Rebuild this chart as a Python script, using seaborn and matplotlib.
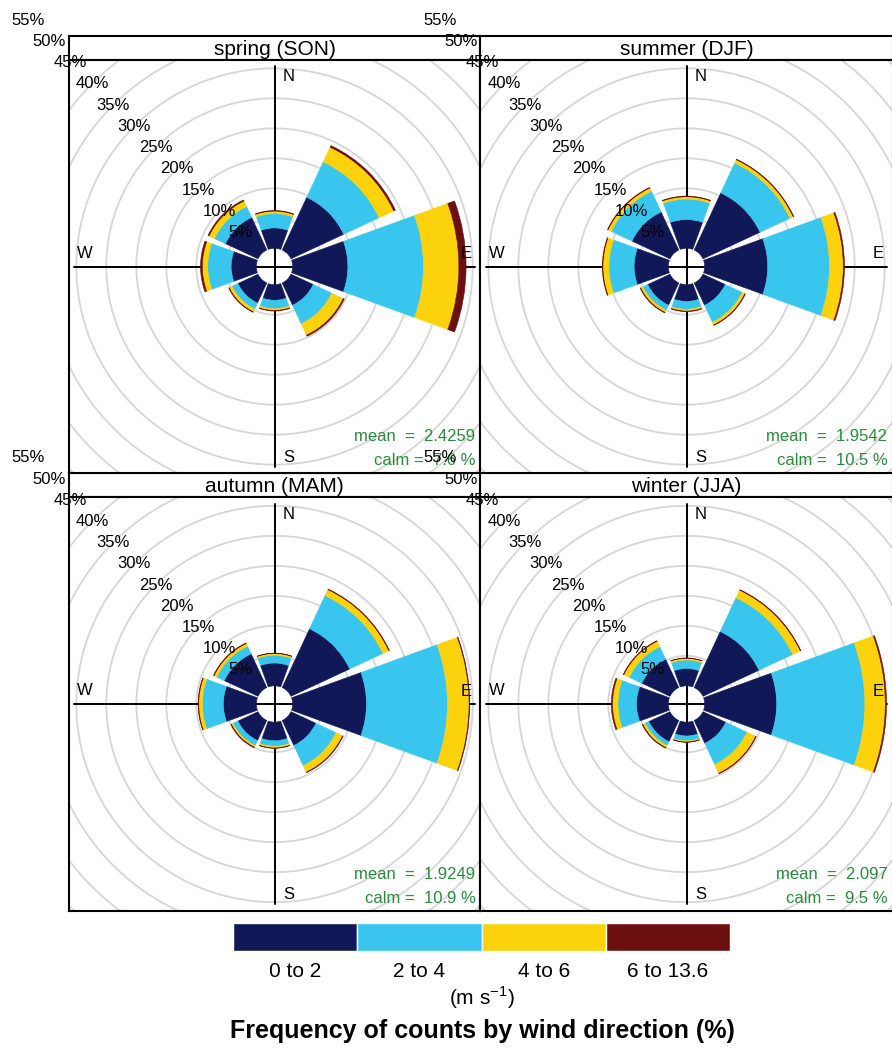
import numpy as np
import pandas as pd
import matplotlib
matplotlib.use("Agg")
import matplotlib.pyplot as plt
from matplotlib.patches import Wedge, Circle
import seaborn as sns

# -------- data --------
directions = ["N", "NE", "E", "SE", "S", "SW", "W", "NW"]
bearings = [0, 45, 90, 135, 180, 225, 270, 315]
speed_bins = ["0 to 2", "2 to 4", "4 to 6", "6 to 13.6"]
seasons = ["spring (SON)", "summer (DJF)", "autumn (MAM)", "winter (JJA)"]

# frequency (%) - rows are speed bins, columns are directions
spring = [
    [3.4, 9.7, 9.2, 4.1, 2.6, 3.7, 4.2, 6.0],
    [2.4, 6.5, 12.6, 3.4, 1.4, 1.1, 3.9, 2.0],
    [0.4, 2.7, 5.9, 2.1, 0.3, 0.5, 0.9, 1.0],
    [0.1, 0.3, 1.2, 0.2, 0.1, 0.1, 0.3, 0.2],
]
summer = [
    [4.8, 10.5, 10.5, 4.1, 2.8, 4.1, 5.7, 7.0],
    [3.4, 5.5, 10.3, 3.1, 1.3, 0.9, 4.2, 3.8],
    [0.4, 0.6, 2.3, 0.5, 0.3, 0.4, 1.0, 0.6],
    [0.1, 0.1, 0.2, 0.1, 0.1, 0.1, 0.1, 0.1],
]
autumn = [
    [3.8, 10.8, 12.3, 4.6, 3.1, 3.7, 5.5, 6.2],
    [1.3, 6.1, 13.5, 3.7, 0.9, 0.9, 3.5, 1.4],
    [0.3, 1.1, 3.6, 1.2, 0.3, 0.3, 0.6, 0.5],
    [0.05, 0.1, 0.1, 0.1, 0.05, 0.1, 0.1, 0.1],
]
winter = [
    [2.9, 10.3, 12.0, 4.2, 2.3, 3.9, 5.3, 5.2],
    [1.4, 6.2, 14.7, 3.9, 0.8, 0.7, 3.1, 2.3],
    [0.3, 1.4, 3.4, 1.6, 0.2, 0.4, 0.9, 1.0],
    [0.05, 0.1, 0.2, 0.1, 0.05, 0.1, 0.2, 0.1],
]
mean_ws = ["2.4259", "1.9542", "1.9249", "2.097"]
calm_pct = ["7.6", "10.5", "10.9", "9.5"]
pct_ticks = [5, 10, 15, 20, 25, 30, 35, 40, 45, 50, 55]

colors = sns.color_palette(["#111858", "#38c6ef", "#fbd20c", "#6c0f0f"])

# -------- long table with stacked radii --------
rows = []
for season, table in zip(seasons, [spring, summer, autumn, winter]):
    for b, vals in zip(speed_bins, table):
        for d, brg, v in zip(directions, bearings, vals):
            rows.append({"season": season, "bin": b, "direction": d, "bearing": brg, "freq": v})
df = pd.DataFrame(rows)
df["top"] = df.groupby(["season", "direction"])["freq"].cumsum()
offset = 0.1 * df["top"].max()

# -------- figure --------
sns.set_style("white")
plt.rcParams["font.family"] = ["Liberation Sans", "DejaVu Sans"]
plt.rcParams["mathtext.fontset"] = "custom"
plt.rcParams["mathtext.rm"] = "Liberation Sans"
plt.rcParams["text.color"] = "black"
plt.rcParams["xtick.color"] = "black"
plt.rcParams["xtick.labelcolor"] = "black"

W, H = 892, 1048
fig = plt.figure(figsize=(W / 100, H / 100), dpi=100)


def px_rect(x0, y0, x1, y1):
    return [x0 / W, 1 - y1 / H, (x1 - x0) / W, (y1 - y0) / H]


panels = [(69, 60, 480, 473), (480, 60, 893, 473), (69, 497, 480, 911), (480, 497, 893, 911)]
px_per_pct = 6.0

# strips first so panel labels may overlap them
for season, (x0, y0, x1, y1) in zip(seasons, panels):
    sax = fig.add_axes(px_rect(x0, y0 - 24, x1, y0))
    sax.set_xticks([])
    sax.set_yticks([])
    for s in sax.spines.values():
        s.set_color("black")
        s.set_linewidth(1.5)
    sax.text(0.5, 0.45, season, ha="center", va="center", fontsize=15, transform=sax.transAxes)

for i, (season, (x0, y0, x1, y1)) in enumerate(zip(seasons, panels)):
    ax = fig.add_axes(px_rect(x0, y0, x1, y1))
    hx = (x1 - x0) / 2 / px_per_pct
    hy = (y1 - y0) / 2 / px_per_pct
    ax.set_xlim(-hx, hx)
    ax.set_ylim(-hy, hy)
    ax.set_xticks([])
    ax.set_yticks([])
    for s in ax.spines.values():
        s.set_color("black")
        s.set_linewidth(1.5)

    for p in pct_ticks:
        ax.add_patch(Circle((0, 0), offset + p, fill=False, ec="#d6d6d6", lw=1.3, zorder=1))
    ax.plot([-33.4, 33.4], [0, 0], color="black", lw=1.4, zorder=2)
    ax.plot([0, 0], [-33.4, 33.4], color="black", lw=1.4, zorder=2)

    sub = df[df["season"] == season]
    for _, r in sub.iterrows():
        c = colors[speed_bins.index(r["bin"])]
        a = 90 - r["bearing"]
        ax.add_patch(Wedge((0, 0), offset + r["top"], a - 20, a + 20, width=r["freq"],
                           fc=c, ec=c, lw=0.4, zorder=3))

    ang = np.deg2rad(315)
    for p in pct_ticks:
        rr = offset + p
        ax.text(rr * np.sin(ang), rr * np.cos(ang), f"{p}%", ha="center", va="center",
                fontsize=12, clip_on=False, zorder=5)

    ax.text(2.4, 31.6, "N", ha="center", va="center", fontsize=12, zorder=5)
    ax.text(32.0, 2.1, "E", ha="center", va="center", fontsize=12, zorder=5)
    ax.text(2.4, -31.75, "S", ha="center", va="center", fontsize=12, zorder=5)
    ax.text(-31.7, 2.25, "W", ha="center", va="center", fontsize=12, zorder=5)

    ax.text(33.5, -28.4, f"mean  =  {mean_ws[i]}", ha="right", va="center",
            color="#2a8a3e", fontsize=12, zorder=5)
    ax.text(33.5, -32.4, f"calm =  {calm_pct[i]} %", ha="right", va="center",
            color="#2a8a3e", fontsize=12, zorder=5)

# -------- key --------
lax = fig.add_axes(px_rect(233, 923, 730, 951))
sns.barplot(x=speed_bins, y=[1] * 4, hue=speed_bins, palette=colors, legend=False,
            width=1, saturation=1, ax=lax)
lax.set_xlim(-0.5, 3.5)
lax.set_ylim(0, 1)
lax.set_yticks([])
lax.set_ylabel("")
lax.tick_params(axis="x", length=0, pad=8, labelsize=15, labelcolor="black")
for s in lax.spines.values():
    s.set_visible(False)

fig.text(482 / W, 1 - 998 / H, r"(m s$^{-1}$)", ha="center", va="center", fontsize=15)
fig.text(482 / W, 1 - 1031 / H, "Frequency of counts by wind direction (%)",
         ha="center", va="center", fontsize=18, fontweight="bold")

fig.savefig("out.png", dpi=100)
